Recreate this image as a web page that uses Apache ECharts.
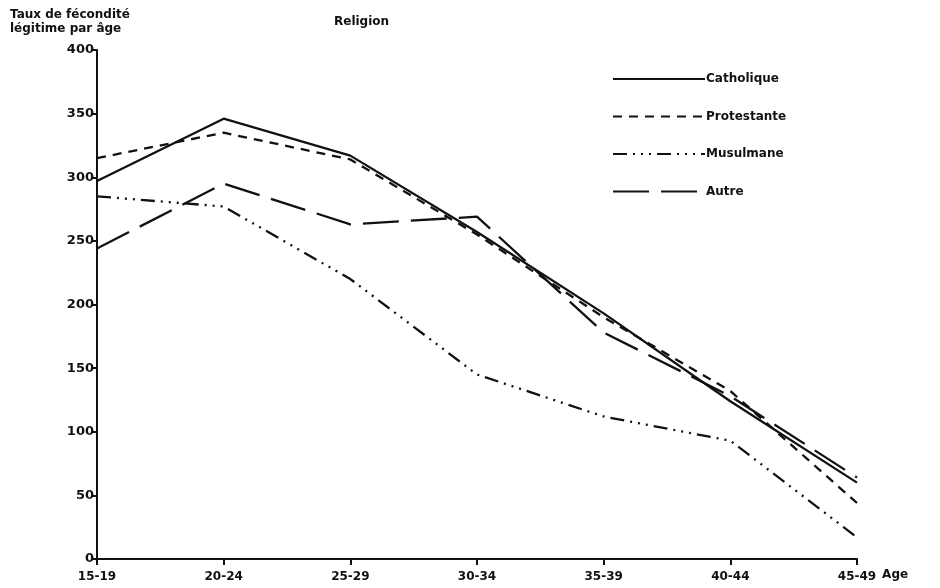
<!DOCTYPE html>
<html>
<head>
<meta charset="utf-8">
<script src="https://cdn.jsdelivr.net/npm/echarts@6/dist/echarts.min.js"></script>
<style>
  html, body { margin: 0; padding: 0; background: #fff; }
  #chart { width: 940px; height: 588px; }
</style>
</head>
<body>
<div id="chart"></div>
<script>
const ageGroups = ['15-19', '20-24', '25-29', '30-34', '35-39', '40-44', '45-49'];
const catholique = [297, 346, 317, 257, 193, 124, 60];
const protestante = [315, 335, 314, 255, 190, 132, 44];
const musulmane = [285, 277, 220, 145, 112, 93, 17];
const autre = [244, 295, 263, 269, 178, 128, 64];

const font = '"DejaVu Sans", "Liberation Sans", sans-serif';
const ink = '#111';

const chart = echarts.init(document.getElementById('chart'));

function makeSeries(name, data, dash) {
  return {
    name: name,
    type: 'line',
    data: data,
    symbol: 'none',
    silent: true,
    lineStyle: { color: ink, width: 2.3, type: dash },
    itemStyle: { color: ink }
  };
}

chart.setOption({
  animation: false,
  textStyle: { fontFamily: font },
  title: [
    {
      text: 'Religion',
      left: 329, top: 11,
      textStyle: { fontFamily: font, fontSize: 12, fontWeight: 'bold', color: ink }
    },
    {
      text: 'Taux de fécondité\nlégitime par âge',
      left: 5, top: 3,
      textStyle: { fontFamily: font, fontSize: 12, fontWeight: 'bold', color: ink, lineHeight: 14 }
    }
  ],
  legend: {
    orient: 'vertical',
    left: 607, top: 68,
    itemWidth: 92, itemHeight: 14,
    itemGap: 25.5,
    itemStyle: { opacity: 0 },
    data: ['Catholique', 'Protestante', 'Musulmane', 'Autre'],
    textStyle: { fontFamily: font, fontSize: 12, fontWeight: 'bold', color: ink, padding: [0, 0, 0, -4] },
    selectedMode: false
  },
  grid: { left: 97, right: 83, top: 50, bottom: 29 },
  xAxis: {
    type: 'category',
    data: ageGroups,
    boundaryGap: false,
    offset: 5,
    name: 'Age',
    nameLocation: 'end',
    nameGap: 12,
    nameTextStyle: { fontFamily: font, fontSize: 12, fontWeight: 'bold', color: ink, verticalAlign: 'top', padding: [10, 0, 0, 0] },
    axisLine: { lineStyle: { color: ink, width: 2 } },
    axisTick: { show: true, alignWithLabel: true, inside: false, length: 6, lineStyle: { color: ink, width: 2 } },
    axisLabel: { fontFamily: font, fontSize: 12, fontWeight: 'bold', color: ink, margin: 7 },
    splitLine: { show: false }
  },
  yAxis: {
    type: 'value',
    min: 0, max: 400, interval: 50,
    axisLine: { show: true, lineStyle: { color: ink, width: 2 } },
    axisTick: { show: true, length: 5, lineStyle: { color: ink, width: 2 } },
    axisLabel: { fontFamily: font, fontSize: 13, fontWeight: 'bold', color: ink, margin: 3 },
    splitLine: { show: false }
  },
  series: [
    makeSeries('Catholique', catholique, 'solid'),
    makeSeries('Protestante', protestante, [9, 7]),
    makeSeries('Musulmane', musulmane, [14, 6, 2, 6, 2, 6, 2, 6]),
    makeSeries('Autre', autre, [36, 12])
  ]
});
</script>
</body>
</html>
